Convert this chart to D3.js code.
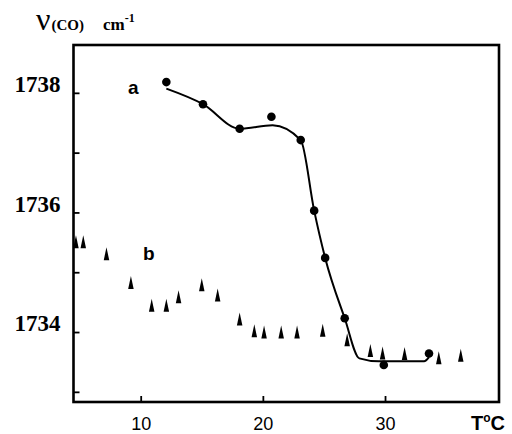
<!DOCTYPE html>
<html>
<head>
<meta charset="utf-8">
<script src="https://cdn.jsdelivr.net/npm/d3@7/dist/d3.min.js"></script>
<style>
  html, body { margin: 0; padding: 0; background: #fff; }
  svg { display: block; }
</style>
</head>
<body>
<svg id="chart" width="512" height="434"></svg>
<script>
// ---- data ----
const aTemps  = [12.1, 15.1, 18.1, 20.7, 23.1, 24.2, 25.1, 26.7, 29.9, 33.6];
const aValues = [1738.18, 1737.81, 1737.40, 1737.60, 1737.21, 1736.03, 1735.24, 1734.23, 1733.45, 1733.64];

// fitted (hand-drawn) curve through series a
const fitTemps  = [12.1, 15.1, 18.1, 20.8, 23.1, 24.2, 25.1, 26.7, 27.9, 29.5, 33.2, 33.6];
const fitValues = [1738.07, 1737.81, 1737.40, 1737.46, 1737.21, 1736.03, 1735.24, 1734.23, 1733.56, 1733.51, 1733.51, 1733.58];

const bTemps  = [4.7, 5.3, 7.2, 9.2, 10.9, 12.1, 13.1, 15.0, 16.3, 18.1, 19.3, 20.1, 21.5, 22.8, 24.9, 26.9, 28.8, 29.8, 31.6, 34.4, 36.2];
const bValues = [1735.51, 1735.51, 1735.31, 1734.83, 1734.45, 1734.45, 1734.59, 1734.79, 1734.62, 1734.22, 1734.02, 1734.0, 1734.0, 1734.0, 1734.03, 1733.87, 1733.69, 1733.65, 1733.64, 1733.57, 1733.61];

const xTicks = [10, 20, 30];
const yTicks = [1733, 1734, 1735, 1736, 1737, 1738];
const yLabelTicks = [1734, 1736, 1738];

// ---- scales ----
const svg = d3.select("#chart");
const x = d3.scaleLinear().domain([4.5, 39.33]).range([73.5, 499]);
const y = d3.scaleLinear().domain([1732.83, 1738.8]).range([402, 45]);

const serif = "'Liberation Serif', 'Times New Roman', serif";
const sans = "'Liberation Sans', Arial, sans-serif";

// ---- axes ----
const gx = svg.append("g").attr("transform", `translate(0,${y.range()[0]})`)
  .call(d3.axisBottom(x).tickValues(xTicks).tickSize(-6).tickPadding(15.5).tickFormat(d3.format("d")));
gx.select(".domain").remove();
gx.selectAll(".tick line").attr("stroke", "#000").attr("stroke-width", 1.8);
gx.selectAll(".tick text").attr("font-family", sans).attr("font-size", 18).attr("fill", "#000");

const gy = svg.append("g").attr("transform", `translate(${x.range()[0]},0)`)
  .call(d3.axisLeft(y).tickValues(yTicks).tickSize(-6).tickPadding(13)
    .tickFormat(d => yLabelTicks.includes(d) ? d3.format("d")(d) : ""));
gy.select(".domain").remove();
gy.selectAll(".tick line").attr("stroke", "#000").attr("stroke-width", 1.8);
gy.selectAll(".tick text").attr("font-family", serif).attr("font-weight", "bold")
  .attr("font-size", 23).attr("fill", "#000").attr("dy", "-0.05em");

// ---- frame ----
svg.append("rect")
  .attr("x", x.range()[0]).attr("y", y.range()[1])
  .attr("width", x.range()[1] - x.range()[0]).attr("height", y.range()[0] - y.range()[1])
  .attr("fill", "none").attr("stroke", "#000").attr("stroke-width", 2.6);

// ---- fitted curve ----
const fitData = fitTemps.map((t, i) => [t, fitValues[i]]);
svg.append("path")
  .datum(fitData)
  .attr("fill", "none").attr("stroke", "#000").attr("stroke-width", 2)
  .attr("d", d3.line().x(d => x(d[0])).y(d => y(d[1])).curve(d3.curveMonotoneX));

// ---- series a (circles) ----
svg.append("g").selectAll("circle")
  .data(aTemps.map((t, i) => [t, aValues[i]]))
  .join("circle")
  .attr("cx", d => x(d[0])).attr("cy", d => y(d[1])).attr("r", 4.3).attr("fill", "#000");

// ---- series b (tall triangles) ----
const triW = 5.5, triH = 13;
svg.append("g").selectAll("path")
  .data(bTemps.map((t, i) => [t, bValues[i]]))
  .join("path")
  .attr("d", d => {
    const cx = x(d[0]), cy = y(d[1]);
    return `M${cx},${cy - triH / 2} L${cx + triW / 2},${cy + triH / 2} L${cx - triW / 2},${cy + triH / 2} Z`;
  })
  .attr("fill", "#000");

// ---- series labels ----
svg.append("text").attr("x", 128).attr("y", 94).attr("font-family", sans).attr("font-weight", "bold")
  .attr("font-size", 19).text("a");
svg.append("text").attr("x", 143).attr("y", 260).attr("font-family", sans).attr("font-weight", "bold")
  .attr("font-size", 19).text("b");

// ---- axis titles ----
const yt = svg.append("text").attr("x", 36).attr("y", 30).attr("font-family", serif).attr("font-weight", "bold").attr("fill", "#000");
yt.append("tspan").attr("font-size", 32).attr("font-weight", "normal").text("ν");
yt.append("tspan").attr("font-size", 15).attr("dx", 1).text("(CO)");
yt.append("tspan").attr("font-size", 17).attr("dx", 19).text("cm");
yt.append("tspan").attr("font-size", 12).attr("dy", -8).text("-1");

const xt = svg.append("text").attr("x", 471).attr("y", 430).attr("font-family", sans).attr("font-weight", "bold").attr("fill", "#000");
xt.append("tspan").attr("font-size", 20).text("T");
xt.append("tspan").attr("font-size", 12).attr("dy", -8).text("o");
xt.append("tspan").attr("font-size", 20).attr("dy", 8).text("C");
</script>
</body>
</html>
